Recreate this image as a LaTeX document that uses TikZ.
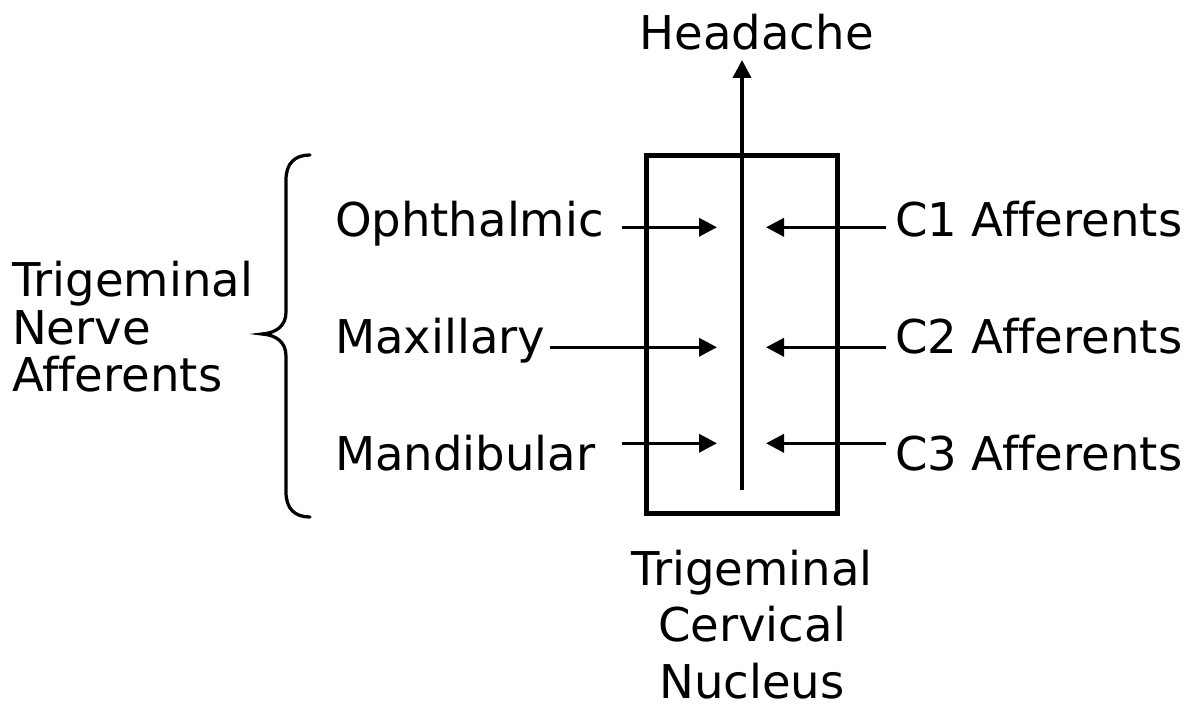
\documentclass[tikz,border=0pt]{standalone}
\usepackage{fontspec}
\setmainfont{DejaVu Sans}[Ligatures=NoCommon]
\usetikzlibrary{arrows.meta}
\begin{document}
\begin{tikzpicture}[x=0.02cm,y=-0.02cm,
  lbl/.style={inner sep=0,outer sep=0,font=\fontsize{26.5}{32}\selectfont},
  arr/.style={line width=0.07cm,-{Triangle[length=0.36cm,width=0.36cm]}},
  boxline/.style={line width=0.1cm},
  bracepath/.style={line width=0.065cm,line cap=round}
]
\useasboundingbox (0,0) rectangle (1196,706);

% nucleus box
\node[draw,boxline,minimum width=3.84cm,minimum height=7.17cm,inner sep=0] (box) at (742,334.75) {};

% central pathway and headache
\node[lbl,anchor=base] (head) at (756.7,49.3) {Headache};
\coordinate (vb) at (742,490);
\coordinate (vt) at (742,60);
\draw[arr,line width=0.08cm] (vb) -- (vt);

% left labels
\node[lbl,anchor=base west] (oph) at (335,236.7) {Ophthalmic};
\node[lbl,anchor=base west] (max) at (335,353.3) {Maxillary};
\node[lbl,anchor=base west] (man) at (335,470) {Mandibular};

% right labels
\node[lbl,anchor=base west] (c1) at (895,236.7) {C1 Afferents};
\node[lbl,anchor=base west] (c2) at (895,353.3) {C2 Afferents};
\node[lbl,anchor=base west] (c3) at (895,470) {C3 Afferents};

% arrow endpoints
\coordinate (s1) at (622,227.3);  \coordinate (t1) at (717,227.3);
\coordinate (s2) at (550,347.3);  \coordinate (t2) at (717,347.3);
\coordinate (s3) at (622,443.3);  \coordinate (t3) at (717,443.3);
\coordinate (r1) at (886,227.3);  \coordinate (u1) at (766,227.3);
\coordinate (r2) at (886,347.3);  \coordinate (u2) at (766,347.3);
\coordinate (r3) at (886,443.3);  \coordinate (u3) at (766,443.3);

\draw[arr] (s1) -- (t1);
\draw[arr] (s2) -- (t2);
\draw[arr] (s3) -- (t3);
\draw[arr] (r1) -- (u1);
\draw[arr] (r2) -- (u2);
\draw[arr] (r3) -- (u3);

% trigeminal nerve afferents group
\node[lbl,anchor=base west] (tg1) at (12,296.7) {Trigeminal};
\node[lbl,anchor=base west] (tg2) at (12,344.2) {Nerve};
\node[lbl,anchor=base west] (tg3) at (12,391.7) {Afferents};

% brace
\draw[bracepath] (310,155) .. controls (295,155) and (286,163) .. (286,180)
  -- (286,312) .. controls (286,326) and (276,333) .. (262,334)
  .. controls (276,335) and (286,342) .. (286,356)
  -- (286,492) .. controls (286,509) and (295,517) .. (310,517);

% bottom label
\node[lbl,anchor=base] (b1) at (752,585) {Trigeminal};
\node[lbl,anchor=base] (b2) at (752,641.5) {Cervical};
\node[lbl,anchor=base] (b3) at (752,698) {Nucleus};
\end{tikzpicture}
\end{document}
